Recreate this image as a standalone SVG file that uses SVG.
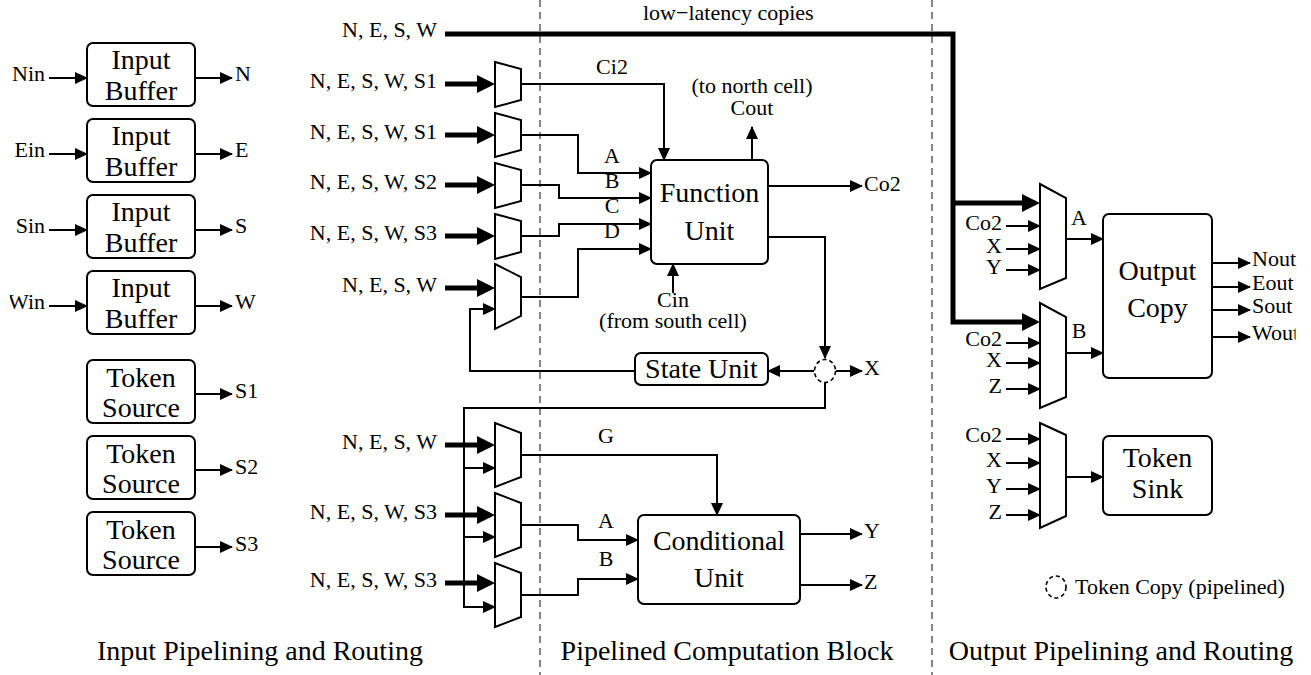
<svg xmlns="http://www.w3.org/2000/svg" width="1311" height="675" viewBox="0 0 1311 675">
<style>
text{font-family:"Liberation Serif","Times New Roman",serif;fill:#000}
.t28{font-size:28px;text-anchor:middle}
.t22{font-size:22px}
.mid{text-anchor:middle}
.end{text-anchor:end}
.box{fill:#fff;stroke:#000;stroke-width:2}
.mux{fill:#fff;stroke:#000;stroke-width:2;stroke-linejoin:miter}
.w{fill:none;stroke:#000;stroke-width:2}
.wa{fill:none;stroke:#000;stroke-width:2;marker-end:url(#ah)}
.th{fill:none;stroke:#000;stroke-width:5}
.tha{fill:none;stroke:#000;stroke-width:5;marker-end:url(#ahT)}
.div{stroke:#444;stroke-width:1.3;stroke-dasharray:7 5;fill:none}
.copy{fill:#fff;stroke:#000;stroke-width:1.6;stroke-dasharray:4 3}
</style>
<defs>
<marker id="ah" markerUnits="userSpaceOnUse" markerWidth="14" markerHeight="12" refX="12" refY="6" orient="auto"><path d="M0,0 L13,6 L0,12 z"/></marker>
<marker id="ahT" markerUnits="userSpaceOnUse" markerWidth="18" markerHeight="18" refX="13" refY="9" orient="auto"><path d="M0,0 L18,9 L0,18 z"/></marker>
<clipPath id="clipL"><rect x="10" y="0" width="100" height="675"/></clipPath>
<clipPath id="clipR"><rect x="1200" y="0" width="95.5" height="675"/></clipPath>
</defs>
<rect width="1311" height="675" fill="#fff"/>

<g id="dividers">
<line class="div" x1="540" y1="0" x2="540" y2="675"/>
<line class="div" x1="932" y1="0" x2="932" y2="675"/>
</g>

<g id="connectors">
<path class="wa" d="M49,78 H87"/><path class="wa" d="M195,78 H232"/>
<path class="wa" d="M49,154 H87"/><path class="wa" d="M195,154 H232"/>
<path class="wa" d="M49,230 H87"/><path class="wa" d="M195,230 H232"/>
<path class="wa" d="M49,306 H87"/><path class="wa" d="M195,306 H232"/>
<path class="wa" d="M195,394 H232"/>
<path class="wa" d="M195,470 H232"/>
<path class="wa" d="M195,547 H232"/>
<path class="th" d="M445,34 H953 V322 H1035" style="marker-end:url(#ahT)"/>
<path class="tha" d="M953,203 H1035"/>
<path class="tha" d="M445,84 H490"/>
<path class="tha" d="M445,135 H490"/>
<path class="tha" d="M445,185 H490"/>
<path class="tha" d="M445,236 H490"/>
<path class="tha" d="M445,288 H490"/>
<path class="tha" d="M445,445 H490"/>
<path class="tha" d="M445,515 H490"/>
<path class="tha" d="M445,583 H490"/>
<path class="wa" d="M521,84 H664 V160"/>
<path class="wa" d="M521,135 H578 V173 H651"/>
<path class="wa" d="M521,185 H559 V198 H651"/>
<path class="wa" d="M521,236 H559 V224 H651"/>
<path class="wa" d="M521,297 H578 V249 H651"/>
<path class="wa" d="M752,160 V127"/>
<path class="wa" d="M768,186 H862"/>
<path class="wa" d="M673,293 V264"/>
<path class="wa" d="M768,237 H825 V358"/>
<path class="wa" d="M814,371 H768"/>
<path class="wa" d="M836,371 H862"/>
<path class="wa" d="M635,371 H470 V309 H495"/>
<path class="wa" d="M825,382 V408 H464 V607 H495"/>
<path class="wa" d="M464,468 H495"/>
<path class="wa" d="M464,537 H495"/>
<path class="wa" d="M521,455 H717 V515"/>
<path class="wa" d="M521,525 H578 V540 H638"/>
<path class="wa" d="M521,595 H578 V579 H638"/>
<path class="wa" d="M800,534 H862"/>
<path class="wa" d="M800,585 H862"/>
<path class="wa" d="M1006,226 H1040"/>
<path class="wa" d="M1006,249 H1040"/>
<path class="wa" d="M1006,270 H1040"/>
<path class="wa" d="M1006,343 H1040"/>
<path class="wa" d="M1006,363 H1040"/>
<path class="wa" d="M1006,389 H1040"/>
<path class="wa" d="M1006,439 H1040"/>
<path class="wa" d="M1006,463 H1040"/>
<path class="wa" d="M1006,489 H1040"/>
<path class="wa" d="M1006,515 H1040"/>
<path class="wa" d="M1066,239 H1103"/>
<path class="wa" d="M1066,353 H1103"/>
<path class="wa" d="M1066,477 H1103"/>
<path class="wa" d="M1212,263 H1250"/>
<path class="wa" d="M1212,287 H1250"/>
<path class="wa" d="M1212,310 H1250"/>
<path class="wa" d="M1212,337 H1250"/>
</g>

<g id="input-labels">
<text class="t22 end" x="45" y="81">Nin</text>
<text class="t22 end" x="45" y="157">Ein</text>
<text class="t22 end" x="45" y="233">Sin</text>
<text class="t22 end" x="45" y="309" clip-path="url(#clipL)">Win</text>
<text class="t22" x="235" y="81">N</text>
<text class="t22" x="235" y="157">E</text>
<text class="t22" x="235" y="233">S</text>
<text class="t22" x="235" y="309">W</text>
<text class="t22" x="235" y="398">S1</text>
<text class="t22" x="235" y="474">S2</text>
<text class="t22" x="235" y="551">S3</text>
<text class="t22 end" x="437" y="37">N, E, S, W</text>
<text class="t22 end" x="437" y="88">N, E, S, W, S1</text>
<text class="t22 end" x="437" y="139">N, E, S, W, S1</text>
<text class="t22 end" x="437" y="189">N, E, S, W, S2</text>
<text class="t22 end" x="437" y="240">N, E, S, W, S3</text>
<text class="t22 end" x="437" y="292">N, E, S, W</text>
<text class="t22 end" x="437" y="449">N, E, S, W</text>
<text class="t22 end" x="437" y="519">N, E, S, W, S3</text>
<text class="t22 end" x="437" y="587">N, E, S, W, S3</text>
<text class="t22" x="643" y="20">low−latency copies</text>
</g>

<g id="ib1"><rect class="box" x="87" y="43" width="108" height="63" rx="6"/><text class="t28" x="141" y="69">Input</text><text class="t28" x="141" y="100">Buffer</text></g>
<g id="ib2"><rect class="box" x="87" y="119" width="108" height="63" rx="6"/><text class="t28" x="141" y="145">Input</text><text class="t28" x="141" y="176">Buffer</text></g>
<g id="ib3"><rect class="box" x="87" y="195" width="108" height="63" rx="6"/><text class="t28" x="141" y="221">Input</text><text class="t28" x="141" y="252">Buffer</text></g>
<g id="ib4"><rect class="box" x="87" y="271" width="108" height="63" rx="6"/><text class="t28" x="141" y="297">Input</text><text class="t28" x="141" y="328">Buffer</text></g>
<g id="ts1"><rect class="box" x="87" y="360" width="108" height="63" rx="6"/><text class="t28" x="141" y="387">Token</text><text class="t28" x="141" y="417">Source</text></g>
<g id="ts2"><rect class="box" x="87" y="436" width="108" height="63" rx="6"/><text class="t28" x="141" y="463">Token</text><text class="t28" x="141" y="493">Source</text></g>
<g id="ts3"><rect class="box" x="87" y="512" width="108" height="63" rx="6"/><text class="t28" x="141" y="539">Token</text><text class="t28" x="141" y="569">Source</text></g>

<g id="mux1"><polygon class="mux" points="495,62 521,69 521,100 495,107"/></g>
<g id="mux2"><polygon class="mux" points="495,113 521,120 521,150 495,157"/></g>
<g id="mux3"><polygon class="mux" points="495,163 521,170 521,201 495,208"/></g>
<g id="mux4"><polygon class="mux" points="495,214 521,221 521,252 495,259"/></g>
<g id="mux5"><polygon class="mux" points="495,264 521,277 521,316 495,329"/></g>
<g id="muxG"><polygon class="mux" points="495,423 521,433 521,477 495,487"/></g>
<g id="muxA"><polygon class="mux" points="495,493 521,503 521,547 495,557"/></g>
<g id="muxB"><polygon class="mux" points="495,563 521,573 521,617 495,627"/></g>
<g id="muxOA"><polygon class="mux" points="1040,184 1066,198 1066,278 1040,289"/></g>
<g id="muxOB"><polygon class="mux" points="1040,303 1066,317 1066,397 1040,408"/></g>
<g id="muxOS"><polygon class="mux" points="1040,423 1066,435 1066,516 1040,528"/></g>

<g id="function-unit"><rect class="box" x="651" y="160" width="117" height="104" rx="6"/><text class="t28" x="709.5" y="202">Function</text><text class="t28" x="709.5" y="240">Unit</text></g>
<g id="fu-labels">
<text class="t22 mid" x="612" y="74">Ci2</text>
<text class="t22 mid" x="612" y="163">A</text>
<text class="t22 mid" x="612" y="188">B</text>
<text class="t22 mid" x="612" y="213">C</text>
<text class="t22 mid" x="612" y="238">D</text>
<text class="t22 mid" x="752" y="93">(to north cell)</text>
<text class="t22 mid" x="752" y="115">Cout</text>
<text class="t22" x="864" y="191">Co2</text>
<text class="t22 mid" x="673" y="307">Cin</text>
<text class="t22 mid" x="673" y="328">(from south cell)</text>
</g>
<g id="state-unit"><rect class="box" x="635" y="353" width="133" height="32" rx="6"/><text class="t28" x="701.5" y="378">State Unit</text></g>
<g id="token-copy"><ellipse class="copy" cx="825" cy="371" rx="10.5" ry="11.5"/><text class="t22" x="864" y="375">X</text></g>

<g id="conditional-unit"><rect class="box" x="638" y="515" width="162" height="89" rx="6"/><text class="t28" x="719" y="550">Conditional</text><text class="t28" x="719" y="587">Unit</text></g>
<g id="cu-labels">
<text class="t22 mid" x="606" y="443">G</text>
<text class="t22 mid" x="606" y="528">A</text>
<text class="t22 mid" x="606" y="566">B</text>
<text class="t22" x="864" y="538">Y</text>
<text class="t22" x="864" y="589">Z</text>
</g>

<g id="out-labels">
<text class="t22 end" x="1002" y="230">Co2</text>
<text class="t22 end" x="1002" y="253">X</text>
<text class="t22 end" x="1002" y="274">Y</text>
<text class="t22 mid" x="1079" y="225">A</text>
<text class="t22 end" x="1002" y="346">Co2</text>
<text class="t22 end" x="1002" y="367">X</text>
<text class="t22 end" x="1002" y="393">Z</text>
<text class="t22 mid" x="1079" y="338">B</text>
<text class="t22 end" x="1002" y="442">Co2</text>
<text class="t22 end" x="1002" y="467">X</text>
<text class="t22 end" x="1002" y="493">Y</text>
<text class="t22 end" x="1002" y="519">Z</text>
<text class="t22" x="1252" y="266">Nout</text>
<text class="t22" x="1252" y="290">Eout</text>
<text class="t22" x="1252" y="313">Sout</text>
<text class="t22" x="1252" y="340" clip-path="url(#clipR)">Wout</text>
</g>
<g id="output-copy"><rect class="box" x="1103" y="214" width="109" height="164" rx="6"/><text class="t28" x="1157.5" y="280">Output</text><text class="t28" x="1157.5" y="317">Copy</text></g>
<g id="token-sink"><rect class="box" x="1103" y="436" width="109" height="79" rx="6"/><text class="t28" x="1157.5" y="467">Token</text><text class="t28" x="1157.5" y="498">Sink</text></g>

<g id="legend"><ellipse class="copy" cx="1056" cy="587" rx="10" ry="11"/><text class="t22" x="1075" y="594">Token Copy (pipelined)</text></g>

<g id="section-titles">
<text class="t28" x="260" y="660">Input Pipelining and Routing</text>
<text class="t28" x="727" y="660">Pipelined Computation Block</text>
<text class="t28" x="1121" y="660">Output Pipelining and Routing</text>
</g>
</svg>
